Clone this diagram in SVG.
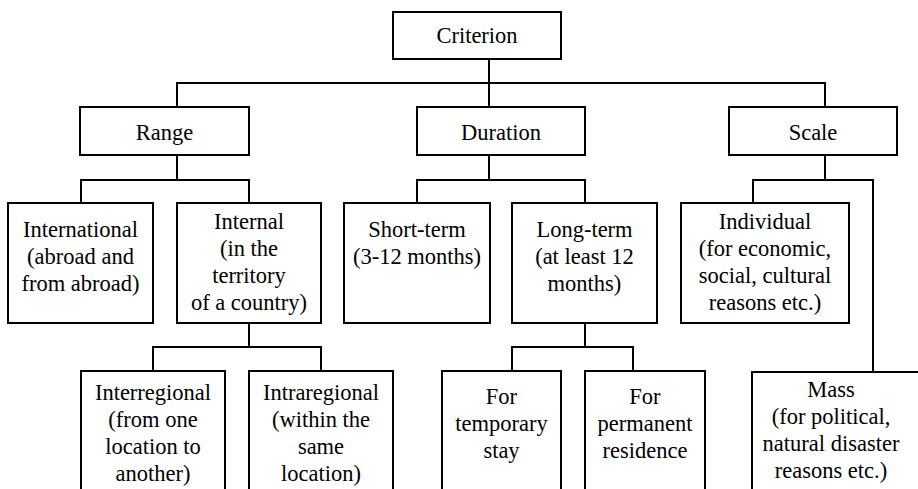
<svg xmlns="http://www.w3.org/2000/svg" width="918" height="489" viewBox="0 0 918 489">
<style>
.box{fill:#fff;stroke:#000;stroke-width:2}
.c{fill:none;stroke:#000;stroke-width:2}
text{font-family:'Liberation Serif','Times New Roman',serif;font-size:22.5px;fill:#000;text-anchor:middle}
</style>
<rect width="918" height="489" fill="#fff"/>
<g id="connectors" class="c">
<path d="M489 59V83M177 107V83H825V107M489 83V107"/>
<path d="M177 155V180M81 203V180H249V203"/>
<path d="M489 155V180M417 203V180H585V203"/>
<path d="M825 155V180M753 203V180H873V372"/>
<path d="M249 323V347M153 371V347H321V371"/>
<path d="M585 323V347M512 371V347H633V371"/>
</g>
<g id="criterion"><rect class="box" x="393" y="12" width="168" height="47"/><text x="477" y="43">Criterion</text></g>
<g id="range"><rect class="box" x="80" y="107" width="169" height="48"/><text x="164.5" y="140">Range</text></g>
<g id="duration"><rect class="box" x="417" y="107" width="168" height="48"/><text x="501" y="140">Duration</text></g>
<g id="scale"><rect class="box" x="729" y="107" width="168" height="48"/><text x="813" y="140">Scale</text></g>
<g id="international"><rect class="box" x="8" y="203" width="145" height="120"/><text x="80.5" y="237">International</text><text x="80.5" y="264">(abroad and</text><text x="80.5" y="291">from abroad)</text></g>
<g id="internal"><rect class="box" x="177" y="203" width="144" height="120"/><text x="249" y="229">Internal</text><text x="249" y="256">(in the</text><text x="249" y="283">territory</text><text x="249" y="310">of a country)</text></g>
<g id="shortterm"><rect class="box" x="344" y="203" width="146" height="120"/><text x="417" y="237">Short-term</text><text x="417" y="264">(3-12 months)</text></g>
<g id="longterm"><rect class="box" x="512" y="203" width="145" height="120"/><text x="584.5" y="237">Long-term</text><text x="584.5" y="264">(at least 12</text><text x="584.5" y="291">months)</text></g>
<g id="individual"><rect class="box" x="681" y="203" width="168" height="120"/><text x="765" y="229">Individual</text><text x="765" y="256">(for economic,</text><text x="765" y="283">social, cultural</text><text x="765" y="310">reasons etc.)</text></g>
<g id="interregional"><rect class="box" x="81" y="371" width="144" height="130"/><text x="153" y="400">Interregional</text><text x="153" y="427">(from one</text><text x="153" y="454">location to</text><text x="153" y="481">another)</text></g>
<g id="intraregional"><rect class="box" x="249" y="371" width="144" height="130"/><text x="321" y="400">Intraregional</text><text x="321" y="427">(within the</text><text x="321" y="454">same</text><text x="321" y="481">location)</text></g>
<g id="temporary"><rect class="box" x="442" y="371" width="119" height="130"/><text x="501.5" y="404">For</text><text x="501.5" y="431">temporary</text><text x="501.5" y="458">stay</text></g>
<g id="permanent"><rect class="box" x="585" y="371" width="120" height="130"/><text x="645" y="404">For</text><text x="645" y="431">permanent</text><text x="645" y="458">residence</text></g>
<g id="mass"><rect class="box" x="752" y="372" width="175" height="130"/><text x="831" y="397">Mass</text><text x="831" y="424">(for political,</text><text x="831" y="451">natural disaster</text><text x="831" y="478">reasons etc.)</text></g>
</svg>
